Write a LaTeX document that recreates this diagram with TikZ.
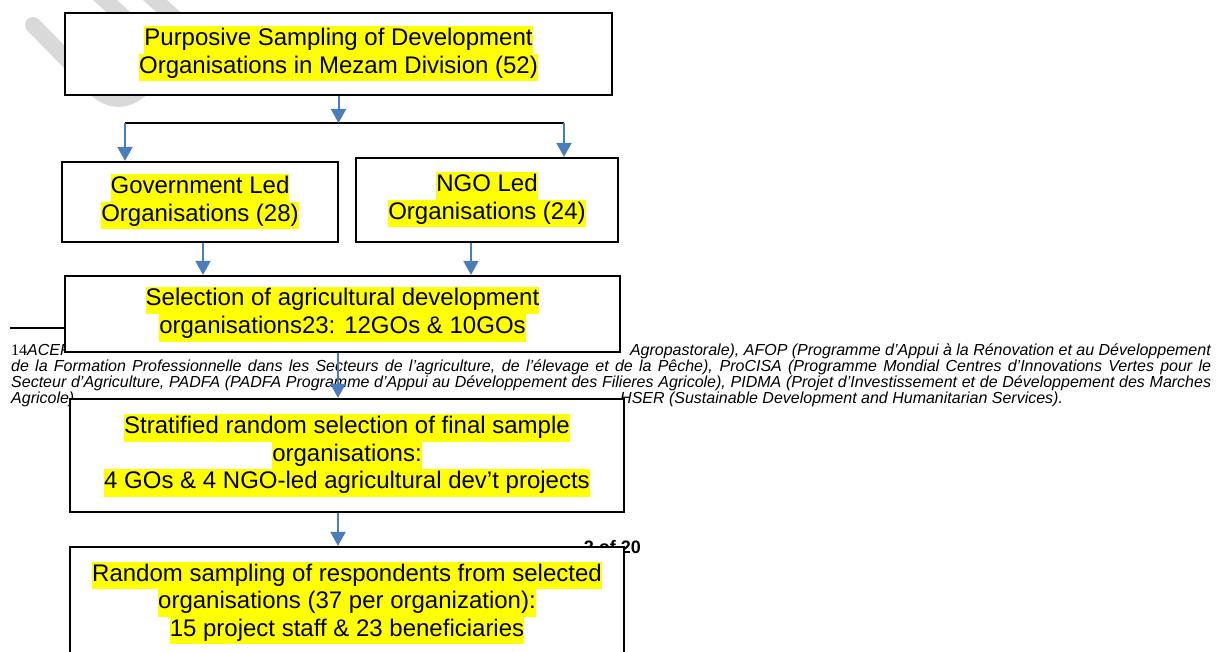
\documentclass[tikz,border=0pt]{standalone}
\usepackage{fontspec}
\setmainfont{Liberation Sans}
\newfontfamily\fnserif{Liberation Serif}
\usetikzlibrary{arrows.meta}
\definecolor{arrowblue}{HTML}{4A7EBB}
\definecolor{wmgray}{HTML}{D9D9D9}
\definecolor{hlyellow}{HTML}{FFFF00}
\newcommand\hlt[1]{{\setlength\fboxsep{0pt}\colorbox{hlyellow}{\strut #1}}}
\begin{document}
\begin{tikzpicture}[x=1pt,y=-1pt,
  boxnode/.style={draw=black, line width=2.2pt, fill=white, inner sep=0pt, align=center, font=\fontsize{24}{27.5}\selectfont},
  arr/.style={draw=arrowblue, line width=2pt, -{Triangle[width=15pt,length=14pt]}},
  fnote/.style={inner sep=0pt, font=\fontsize{16}{16}\selectfont\itshape},
  wm/.style={draw=wmgray, line width=16pt, line cap=round}]
\useasboundingbox (0,0) rectangle (1225,652);
\clip (0,0) rectangle (1225,652);
% watermark fragments
\draw[wm] (33,25) -- (95,88) .. controls (110,103) and (128,102) .. (142,88);
\draw[wm] (96,-8) -- (125,18);
\draw[wm] (146,-8) -- (175,18);
% footnote
\draw[black, line width=1.5pt] (10,328) -- (250,328);
\node[fnote, anchor=base west] (fn1a) at (11,355) {{\fnserif\upshape 14}ACEF};
\node[fnote, anchor=base east] (fn1b) at (1211,355) {Agropastorale), AFOP (Programme d’Appui à la Rénovation et au Développement};
\node[fnote, anchor=base west] (fn2) at (11,371) {\makebox[1200pt][s]{de la Formation Professionnelle dans les Secteurs de l’agriculture, de l’élevage et de la Pêche), ProCISA (Programme Mondial Centres d’Innovations Vertes pour le}};
\node[fnote, anchor=base west] (fn3) at (11,387) {\makebox[1200pt][s]{Secteur d’Agriculture, PADFA (PADFA Programme d’Appui au Développement des Filieres Agricole), PIDMA (Projet d’Investissement et de Développement des Marches}};
\node[fnote, anchor=base west] (fn4a) at (11,403) {Agricole)};
\node[fnote, anchor=base west] (fn4b) at (620,403) {HSER (Sustainable Development and Humanitarian Services).};
\node[inner sep=0pt, anchor=base east, font=\fontsize{18}{18}\selectfont\bfseries] (pg) at (641,553) {2 of 20};
% boxes
\node[boxnode, minimum width=547pt, minimum height=82pt] (top) at (338.5,54)
  {\hlt{Purposive Sampling of Development}\\\hlt{Organisations in Mezam Division (52)}};
\node[boxnode, minimum width=276pt, minimum height=80pt] (gov) at (200,202)
  {\hlt{Government Led}\\\hlt{Organisations (28)}};
\node[boxnode, minimum width=262pt, minimum height=84pt] (ngo) at (487,200)
  {\hlt{NGO Led}\\\hlt{Organisations (24)}};
\node[boxnode, minimum width=555pt, minimum height=76pt] (sel) at (342.5,314)
  {\hlt{Selection of agricultural development}\\\hlt{organisations23: 12GOs \& 10GOs}};
\node[boxnode, minimum width=554pt, minimum height=113pt] (strat) at (347,455.5)
  {\hlt{Stratified random selection of final sample}\\\hlt{organisations:}\\\hlt{4 GOs \& 4 NGO-led agricultural dev’t projects}};
\node[boxnode, minimum width=554pt, minimum height=112pt] (rand) at (347,603)
  {\hlt{Random sampling of respondents from selected}\\\hlt{organisations (37 per organization):}\\\hlt{15 project staff \& 23 beneficiaries}};
% connectors
\coordinate (jL) at (125,123);
\coordinate (jR) at (564,123);
\coordinate (jM) at (338.5,123);
\draw[black, line width=2pt] (jL) -- (jR);
\draw[arr] (top.south) -- (jM);
\draw[arr] (jL) -- (jL |- gov.north);
\draw[arr] (jR) -- (jR |- ngo.north);
\draw[arr] ([xshift=3pt]gov.south) -- ([xshift=3pt]gov.south |- sel.north);
\draw[arr] ([xshift=-16pt]ngo.south) -- ([xshift=-16pt]ngo.south |- sel.north);
\draw[arr] ([xshift=-4.5pt]sel.south) -- ([xshift=-4.5pt]sel.south |- strat.north);
\draw[arr] ([xshift=-9pt]strat.south) -- ([xshift=-9pt]strat.south |- rand.north);
\end{tikzpicture}
\end{document}
